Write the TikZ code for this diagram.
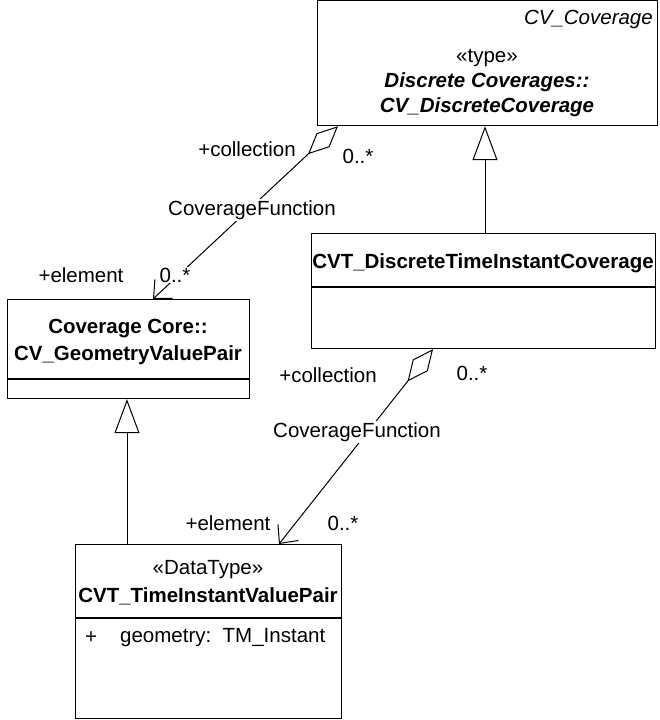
\documentclass[tikz,border=0pt]{standalone}
\usepackage{fontspec}
\setmainfont{Liberation Sans}
\usetikzlibrary{arrows.meta, positioning, calc}
\tikzset{
  classbox/.style={rectangle, draw=black, line width=1.2pt, inner sep=0pt, anchor=north west},
  umltext/.style={inner sep=0pt, font=\fontsize{20.5}{24}\selectfont},
  endtext/.style={umltext, fill=white, inner sep=1pt},
  compline/.style={line width=1.2pt},
  inherit/.style={line width=1pt, -{Triangle[open, length=34pt, width=25pt, line width=1pt]}},
  aggreg/.style={line width=1pt, {Diamond[open, length=41pt, width=19pt, line width=1pt]}-{Straight Barb[length=14pt, width=26pt, line width=1pt]}}
}

\begin{document}
\begin{tikzpicture}[x=1pt, y=-1pt]
    \useasboundingbox (0,0) rectangle (659,720);

    % Class boxes (top left corner, size)
    \node[classbox, minimum width=340pt, minimum height=125pt] (discrete) at (317,0) {};
    \node[classbox, minimum width=344pt, minimum height=115pt] (timecov) at (311,233) {};
    \node[classbox, minimum width=242pt, minimum height=99pt] (geompair) at (7,299) {};
    \node[classbox, minimum width=266pt, minimum height=174pt] (instpair) at (75,544) {};

    % Compartment lines
    \draw[compline] ($(timecov.north west)+(0,54)$) -- ($(timecov.north east)+(0,54)$);
    \draw[compline] ($(geompair.north west)+(0,80)$) -- ($(geompair.north east)+(0,80)$);
    \draw[compline] ($(instpair.north west)+(0,74)$) -- ($(instpair.north east)+(0,74)$);

    % Texts inside the boxes
    \node[umltext, anchor=east] (discreteparent) at (653,19) {\itshape CV\_Coverage};
    \node[umltext] (discretestereo) at (487,58) {«type»};
    \node[umltext] (discretepkg) at (487,82) {\bfseries\itshape Discrete Coverages::};
    \node[umltext] (discretename) at (487,107) {\bfseries\itshape CV\_DiscreteCoverage};
    \node[umltext] (timecovname) at (483,263) {\bfseries CVT\_DiscreteTimeInstantCoverage};
    \node[umltext] (geompairpkg) at (128,329) {\bfseries Coverage Core::};
    \node[umltext] (geompairname) at (128,355) {\bfseries CV\_GeometryValuePair};
    \node[umltext] (instpairstereo) at (208,570) {«DataType»};
    \node[umltext] (instpairname) at (208,596) {\bfseries CVT\_TimeInstantValuePair};
    \node[umltext] (attrvis) at (91,638) {+};
    \node[umltext, anchor=west] (attrgeom) at (120,638) {geometry:\ \ TM\_Instant};

    % Generalizations
    \draw[inherit] ([xshift=174pt]timecov.north west) -- ([xshift=168pt]discrete.south west);
    \draw[inherit] ([xshift=52pt]instpair.north west) -- ([xshift=120pt]geompair.south west);

    % Aggregations (CoverageFunction)
    \draw[aggreg] ([xshift=21pt]discrete.south west) -- ([xshift=146pt]geompair.north west);
    \draw[aggreg] ([xshift=122pt]timecov.south west) -- ([xshift=204pt]instpair.north west);

    % Association end labels (drawn over the lines)
    \node[endtext] (colla) at (247,149) {+collection};
    \node[endtext] (multca) at (358,156) {0..*};
    \node[endtext] (funca) at (252,210) {CoverageFunction};
    \node[endtext] (elema) at (81,275) {+element};
    \node[endtext] (multea) at (175,275) {0..*};
    \node[endtext] (collb) at (328,375) {+collection};
    \node[endtext] (multcb) at (472,373) {0..*};
    \node[endtext] (funcb) at (357,432) {CoverageFunction};
    \node[endtext] (elemb) at (228,523) {+element};
    \node[endtext] (multeb) at (343,523) {0..*};
\end{tikzpicture}
\end{document}
